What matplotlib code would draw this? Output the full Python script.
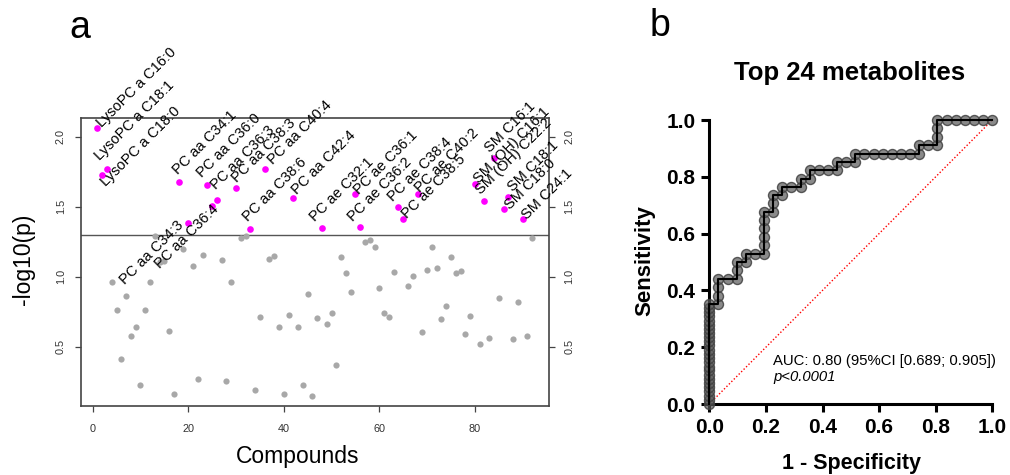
import numpy as np
import matplotlib
matplotlib.use("Agg")
import matplotlib.pyplot as plt

plt.rcParams['font.family'] = ['Liberation Sans', 'DejaVu Sans']

# ---- panel a: -log10(p) per compound ----
sig_idx = [1, 2, 3, 18, 20, 24, 25, 26, 30, 33, 36, 42,
           48, 55, 56, 64, 65, 68, 80, 82, 84, 86, 87, 90]
sig_logp = [2.06, 1.727, 1.769, 1.674, 1.386, 1.655, 1.507, 1.548, 1.631, 1.339, 1.769, 1.56,
            1.35, 1.589, 1.355, 1.50, 1.41, 1.589, 1.661, 1.542, 1.846, 1.484, 1.571, 1.41]
sig_names = ["LysoPC a C16:0", "LysoPC a C18:0", "LysoPC a C18:1", "PC aa C34:1",
             "PC aa C34:3", "PC aa C36:0", "PC aa C36:4", "PC aa C36:3",
             "PC aa C38:3", "PC aa C38:6", "PC aa C40:4", "PC aa C42:4",
             "PC ae C32:1", "PC ae C36:1", "PC ae C36:2", "PC ae C38:4",
             "PC ae C38:5", "PC ae C40:2", "SM (OH) C16:1", "SM (OH) C22:2",
             "SM C16:1", "SM C18:0", "SM C18:1", "SM C24:1"]

ns_idx = [4, 5, 6, 7, 8, 9, 10, 11, 12, 13, 14, 15, 16, 17, 19, 21, 22, 23,
          27, 28, 29, 31, 32, 34, 35, 37, 38, 39, 40, 41, 43, 44, 45, 46, 47,
          49, 50, 51, 52, 53, 54, 57, 58, 59, 60, 61, 62, 63, 66, 67,
          69, 70, 71, 72, 73, 74, 75, 76, 77, 78, 79, 81, 83, 85, 88, 89, 91, 92]
ns_logp = [0.962, 0.764, 0.412, 0.862, 0.579, 0.643, 0.229, 0.764, 0.962, 1.293, 1.107, 1.11,
           0.614, 0.164, 1.2, 1.076, 0.271, 1.155,
           1.117, 0.257, 0.962, 1.274, 1.293, 0.191, 0.714, 1.126, 1.15, 0.643, 0.164, 0.729,
           0.643, 0.226, 0.874, 0.15, 0.703,
           0.662, 0.743, 0.369, 1.143, 1.024, 0.893, 1.25, 1.262, 1.214, 0.917, 0.739, 0.714,
           1.031, 0.931, 1.005,
           0.603, 1.046, 1.21, 1.062, 0.698, 0.793, 1.143, 1.024, 1.043, 0.589, 0.719,
           0.517, 0.56, 0.846, 0.557, 0.817, 0.576, 1.274]

p_cut = 0.05

# label placement (offset in pixels from the point, anchor side)
label_off = [(4, 0.6), (4, -11.7), (-7, 8), (-0.7, 7.3), (-4.3, -3.3), (-5, 6.7),
             (7, -4.6), (-1.3, 10), (0.7, 5), (-2.4, 7.6), (8.3, 4), (3.4, 3.3),
             (-7.3, 6), (3.3, -0.7), (-7.6, 5.3), (-5, 5), (3.4, 0), (2.3, 1),
             (4.3, 0.2), (-3.3, 5.8), (-4, 5), (6, -1), (5, 5), (4, -0.7)]
label_ha = ['left'] * 24
label_ha[4] = 'right'
label_ha[6] = 'right'

# ---- panel b: ROC curve ----
fpr = [0.0] * 25 + [0.032, 0.032, 0.032, 0.032, 0.065, 0.097, 0.097, 0.097, 0.129, 0.129,
                    0.161, 0.194, 0.194, 0.194, 0.194, 0.194, 0.194, 0.226, 0.226, 0.226,
                    0.258, 0.258, 0.290, 0.323, 0.323, 0.355, 0.355, 0.387, 0.419, 0.452,
                    0.452, 0.484, 0.516, 0.516, 0.548, 0.581, 0.613, 0.645, 0.677, 0.710,
                    0.742, 0.742, 0.774, 0.806, 0.806, 0.806, 0.806, 0.839, 0.871, 0.903,
                    0.935, 0.968, 1.0]
tpr = [0.0, 0.0147, 0.0294, 0.0441, 0.0588, 0.0735, 0.0882, 0.103, 0.118, 0.132, 0.147,
       0.162, 0.176, 0.191, 0.206, 0.221, 0.235, 0.250, 0.265, 0.279, 0.294, 0.309, 0.324,
       0.338, 0.353,
       0.353, 0.382, 0.412, 0.441, 0.441, 0.441, 0.471, 0.5, 0.5, 0.529,
       0.529, 0.529, 0.559, 0.588, 0.618, 0.647, 0.676, 0.676, 0.706, 0.735,
       0.735, 0.765, 0.765, 0.765, 0.794, 0.794, 0.824, 0.824, 0.824, 0.824,
       0.853, 0.853, 0.853, 0.882, 0.882, 0.882, 0.882, 0.882, 0.882, 0.882,
       0.882, 0.912, 0.912, 0.912, 0.941, 0.971, 1.0, 1.0, 1.0, 1.0,
       1.0, 1.0, 1.0]
auc_text = "AUC: 0.80 (95%CI [0.689; 0.905])"
p_text = "p<0.0001"

W, H = 1010, 475
fig = plt.figure(figsize=(W / 100, H / 100), dpi=100)


def fx(px):
    return px / W


def fy(py):
    return 1 - py / H


# ---------------- panel a ----------------
ax1 = fig.add_axes([fx(81), fy(405.7), fx(549) - fx(81), fy(118) - fy(405.7)])
ax1.scatter(ns_idx, ns_logp, s=20, color='#a8a8a8', linewidths=0, zorder=2)
ax1.scatter(sig_idx, sig_logp, s=23, color='#ff00ff', linewidths=0, zorder=3)
ax1.axhline(-np.log10(p_cut), color='#555555', lw=1.0, zorder=1)

for xi, yi, name, off, ha in zip(sig_idx, sig_logp, sig_names, label_off, label_ha):
    ax1.annotate(name, xy=(xi, yi), xytext=off, textcoords='offset pixels',
                 rotation=45, rotation_mode='anchor', ha=ha, va='baseline',
                 fontsize=10.5, color='black', zorder=4, annotation_clip=False)

ax1.set_xlim(-2.45, 95.5)
ax1.set_ylim(0.0786, 2.134)
ax1.set_xticks([0, 20, 40, 60, 80])
ax1.set_yticks([0.5, 1.0, 1.5, 2.0])
ax1.tick_params(axis='both', direction='out', length=4, width=0.9, color='#444444',
                labelsize=7.8, labelcolor='#333333')
ax1.tick_params(axis='x', pad=9)
ax1.tick_params(axis='y', pad=7, right=True, labelright=True)
for lab in ax1.get_yticklabels():
    lab.set_rotation(90)
    lab.set_va('center')
for sp in ax1.spines.values():
    sp.set_color('#444444')
    sp.set_linewidth(1.2)

fig.text(fx(298), fy(457), "Compounds", ha='center', va='center', fontsize=16.5)
fig.text(fx(23), fy(259), "-log10(p)", ha='center', va='center', fontsize=16.5, rotation=90)
fig.text(fx(80), fy(28), "a", ha='center', va='center', fontsize=27)
fig.text(fx(660), fy(26), "b", ha='center', va='center', fontsize=27)

# ---------------- panel b ----------------
ax2 = fig.add_axes([fx(709.3), fy(404), fx(992.3) - fx(709.3), fy(120) - fy(404)])
ax2.plot([0, 1], [0, 1], color='red', lw=1.0, linestyle=(0, (1, 1.5)), zorder=1)
ax2.plot(fpr, tpr, linestyle='none', marker='o', markersize=7.2,
         markerfacecolor=(0.35, 0.35, 0.35, 0.7), markeredgecolor=(0.25, 0.25, 0.25, 0.85),
         markeredgewidth=1.0, clip_on=False, zorder=3)
ax2.plot(fpr, tpr, color='black', lw=1.5, clip_on=False, zorder=4)

ax2.set_xlim(0, 1)
ax2.set_ylim(0, 1)
ax2.set_xticks([0, 0.2, 0.4, 0.6, 0.8, 1.0])
ax2.set_yticks([0, 0.2, 0.4, 0.6, 0.8, 1.0])
ax2.xaxis.set_major_formatter(matplotlib.ticker.FormatStrFormatter('%.1f'))
ax2.yaxis.set_major_formatter(matplotlib.ticker.FormatStrFormatter('%.1f'))
ax2.tick_params(axis='both', direction='out', length=6, width=2.2, color='black',
                labelsize=15, pad=4)
for lab in ax2.get_xticklabels() + ax2.get_yticklabels():
    lab.set_fontweight('bold')
for side in ['top', 'right']:
    ax2.spines[side].set_visible(False)
for side in ['left', 'bottom']:
    ax2.spines[side].set_linewidth(2.2)
    ax2.spines[side].set_color('black')

fig.text(fx(850), fy(73), "Top 24 metabolites", ha='center', va='center',
         fontsize=18.5, fontweight='bold')
fig.text(fx(645), fy(261), "Sensitivity", ha='center', va='center', rotation=90,
         fontsize=16, fontweight='bold')
fig.text(fx(851), fy(463), "1 - Specificity", ha='center', va='center',
         fontsize=15.5, fontweight='bold')
fig.text(fx(773.3), fy(365), auc_text, ha='left', va='baseline', fontsize=10.7)
fig.text(fx(773.3), fy(381), p_text, ha='left', va='baseline', fontsize=10.7, style='italic')

fig.savefig("out.png", dpi=100)
